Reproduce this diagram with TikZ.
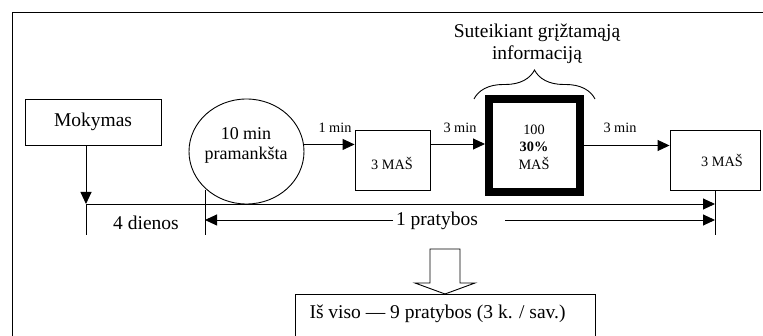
\documentclass[tikz,border=0pt]{standalone}
\usepackage{fontspec}
\setmainfont{Liberation Serif}
\usetikzlibrary{arrows.meta,shapes.geometric,decorations.pathreplacing}
\begin{document}
\begin{tikzpicture}[x=1pt,y=-1pt,
  thinline/.style={line width=0.9pt},
  tip/.style={-{Triangle[length=12pt,width=11pt]}},
  bigtxt/.style={font=\fontsize{19.5}{22}\selectfont},
  midtxt/.style={font=\fontsize{18}{20}\selectfont},
  smalltxt/.style={font=\fontsize{14.3}{17.5}\selectfont},
  stagebox/.style={draw, line width=0.9pt, inner sep=0pt},
]
\useasboundingbox (0,0) rectangle (763,336);
\clip (0,0) rectangle (763,336);

% outer frame (runs past the page on the right and at the bottom)
\draw[line width=1pt] (12,360) -- (12,13) -- (790,13);

% stages
\node[stagebox, minimum width=136pt, minimum height=46pt, bigtxt] (mok) at (93,122) {Mokymas};
\node[draw, thinline, ellipse, minimum width=115pt, minimum height=105pt, inner sep=0pt] (warm) at (246.5,151.5) {};
\node[midtxt, align=center] (warmtxt) at (246,145) {10 min\\pramankšta};
\node[stagebox, minimum width=75pt, minimum height=60pt] (mas1) at (392.5,160) {};
\node[smalltxt] (mas1txt) at (392,163) {3 MAŠ};
\node[draw, line width=8pt, minimum width=91pt, minimum height=93pt, inner sep=0pt] (fb) at (534.5,145.5) {};
\node[smalltxt, align=center] (fbtxt) at (534,147) {100\\\textbf{30\%}\\MAŠ};
\node[stagebox, minimum width=90pt, minimum height=60pt] (mas2) at (715,160) {};
\node[smalltxt] (mas2txt) at (722,160) {3 MAŠ};

% brace and its caption
\coordinate (brl) at (474,99);
\coordinate (brr) at (595,99);
\draw[thinline, decorate, decoration={brace, amplitude=29pt}] (brl) -- (brr);
\node[bigtxt, align=center] (brtxt) at (537,44) {Suteikiant grįžtamąją\\informaciją};

% flow between stages
\coordinate (r1) at ([yshift=16pt]mas1.east);
\draw[thinline, tip] (warm.7) -- (warm.7 -| mas1.west);
\draw[thinline, tip] (r1) -- (r1 -| fb.west);
\draw[thinline, tip] (fb.east) -- (fb.east -| mas2.west);
\node[smalltxt] (l1) at (335,128) {1 min};
\node[smalltxt] (l2) at (460,128) {3 min};
\node[smalltxt] (l3) at (620,128) {3 min};

% time line
\coordinate (mokdrop) at ([xshift=-7pt]mok.south);
\coordinate (t1) at (mokdrop |- 0,204);
\coordinate (t1end) at (mokdrop |- 0,235);
\coordinate (rend) at (mas2.south |- 0,235);
\coordinate (p0) at (205,220);
\coordinate (p0top) at (205,190);
\coordinate (p0end) at (205,235);
\coordinate (q1) at (393,220);
\coordinate (q2) at (505,220);
\draw[thinline, tip] (mokdrop) -- (t1);
\draw[thinline] (t1) -- (t1end);
\draw[thinline] (mas2.south) -- (rend);
\draw[thinline] (p0top) -- (p0end);
\draw[thinline, tip] (t1) -- (t1 -| mas2.south);
\draw[thinline, tip] (q1) -- (p0);
\draw[thinline, tip] (q2) -- (q2 -| mas2.south);
\node[bigtxt] (days) at (146,223) {4 dienos};
\node[bigtxt] (prat) at (437,221) {1 pratybos};

% summary
\node[stagebox, minimum width=300pt, minimum height=70pt, anchor=north west] (total) at (295,294) {};
\node[bigtxt, anchor=west] (totaltxt) at (306,314) {Iš viso — 9 pratybos (3 k. / sav.)};
\draw[thinline, fill=white] (430,249) -- (460,249) -- (460,283) -- (475,283) -- (total.north -| 445,0) -- (415,283) -- (430,283) -- cycle;
\end{tikzpicture}
\end{document}
